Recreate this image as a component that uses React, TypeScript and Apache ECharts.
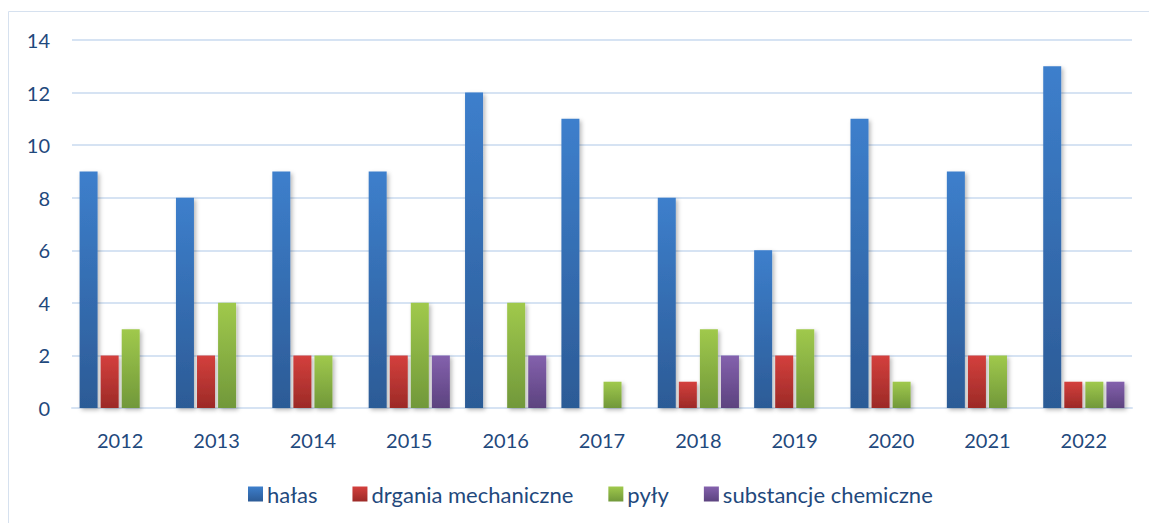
import React, { useEffect, useRef } from "react";
import * as echarts from "echarts";

const years = ["2012", "2013", "2014", "2015", "2016", "2017", "2018", "2019", "2020", "2021", "2022"];
const halas = [9, 8, 9, 9, 12, 11, 8, 6, 11, 9, 13];
const drgania = [2, 2, 2, 2, 0, 0, 1, 2, 2, 2, 1];
const pyly = [3, 4, 2, 4, 4, 1, 3, 3, 1, 2, 1];
const substancje = [0, 0, 0, 2, 2, 0, 2, 0, 0, 0, 1];

const seriesNames = ["hałas", "drgania mechaniczne", "pyły", "substancje chemiczne"];
const seriesData = [halas, drgania, pyly, substancje];
const gradients = [
  ["#3d7fcc", "#2c5b96"],
  ["#d4403d", "#9c2a27"],
  ["#a0c94c", "#71983a"],
  ["#8461ad", "#5c437f"],
];

const textColor = "#1f497d";
const font = "Lato, 'Open Sans', sans-serif";

export default function App() {
  const ref = useRef<HTMLDivElement>(null);
  useEffect(() => {
    const chart = echarts.init(ref.current!, null, { renderer: "svg" });
    chart.setOption({
      animation: false,
      backgroundColor: "#ffffff",
      graphic: [
        {
          type: "rect",
          shape: { x: 8.5, y: 11.5, width: 1160, height: 520 },
          style: { fill: "none", stroke: "#d6e1ef", lineWidth: 1 },
          silent: true,
        },
      ],
      grid: { left: 72, right: 17, top: 40, bottom: 115, containLabel: false },
      legend: {
        data: seriesNames,
        top: 478,
        left: 243,
        itemWidth: 15,
        itemHeight: 15,
        itemGap: 35,
        icon: "rect",
        textStyle: { color: textColor, fontSize: 22, fontFamily: font, padding: [0, 0, 0, -1] },
      },
      xAxis: {
        type: "category",
        data: years,
        axisLine: { show: true, lineStyle: { color: "#d6e3f3", width: 2 } },
        axisTick: { show: false },
        axisLabel: { color: textColor, fontSize: 20, fontFamily: font, margin: 22 },
      },
      yAxis: {
        type: "value",
        min: 0,
        max: 14,
        interval: 2,
        axisLine: { show: false },
        axisTick: { show: false },
        axisLabel: { color: textColor, fontSize: 20, fontFamily: font, margin: 22 },
        splitLine: { lineStyle: { color: "#d6e3f3", width: 2 } },
      },
      series: seriesNames.map((name, i) => ({
        name,
        type: "bar",
        data: seriesData[i],
        barWidth: 18,
        barGap: "17%",
        itemStyle: {
          color: new echarts.graphic.LinearGradient(0, 0, 0, 1, [
            { offset: 0, color: gradients[i][0] },
            { offset: 1, color: gradients[i][1] },
          ]),
          shadowColor: "rgba(0,0,0,0.28)",
          shadowBlur: 4,
          shadowOffsetX: 2,
          shadowOffsetY: 2,
        },
      })),
    });
    return () => chart.dispose();
  }, []);
  return (
    <div
      ref={ref}
      style={{ position: "fixed", left: 0, top: 0, width: 1149, height: 523 }}
    />
  );
}
